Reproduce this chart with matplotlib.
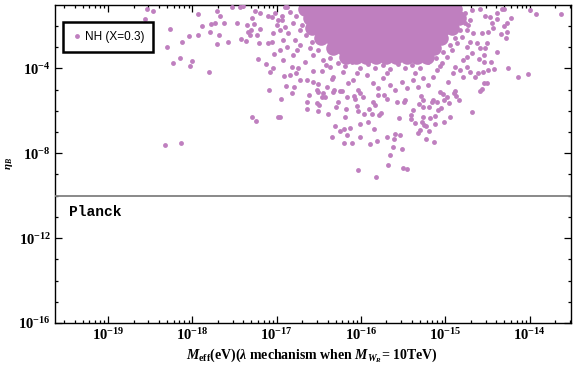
import matplotlib
matplotlib.use("Agg")
import matplotlib.pyplot as plt
import numpy as np
from matplotlib.ticker import NullFormatter, FixedLocator, LogFormatterSciNotation

plt.rcParams['font.family'] = 'Liberation Serif'
plt.rcParams['font.weight'] = 'bold'
plt.rcParams['mathtext.fontset'] = 'custom'
plt.rcParams['mathtext.rm'] = 'Liberation Serif:bold'
plt.rcParams['mathtext.bf'] = 'Liberation Serif:bold'
plt.rcParams['mathtext.it'] = 'Liberation Serif:italic:bold'

# log10 of scattered points (sparse part of the cloud)
sparse_logx = [
    -18.54, -18.47, -18.56, -18.27, -17.93, -17.89, -17.93, -18.04, -18.12, -18.30,
    -18.23, -18.15, -18.00, -18.03, -17.80, -17.79, -17.78, -17.73, -17.71, -17.67,
    -17.62, -17.68, -17.71, -17.58, -17.53, -17.47, -17.42, -17.36, -17.40, -17.35,
    -17.34, -17.30, -17.27, -17.29, -17.26, -17.20, -17.21, -17.23, -17.22, -17.13,
    -17.08, -17.04, -17.09, -16.91, -16.89, -16.95, -17.29, -17.25, -16.98, -18.32,
    -18.14, -17.44, -17.10, -17.03, -16.96, -17.20, -17.32, -17.06, -17.10, -17.06,
    -17.02, -16.98, -16.94, -16.88, -16.90, -16.96, -16.87, -17.00, -17.04, -16.93,
    -16.88, -16.82, -16.62, -16.64, -16.64, -16.51, -16.52, -16.50, -16.51, -16.46,
    -16.43, -16.39, -16.33, -16.25, -16.27, -16.30, -16.18, -16.19, -16.31, -16.25,
    -16.20, -16.13, -16.17, -16.34, -16.20, -16.11, -16.01, -16.01, -16.04, -16.05,
    -16.07, -16.08, -16.01, -15.96, -15.92, -15.91, -15.87, -15.85, -15.89, -15.81,
    -15.79, -15.76, -15.83, -15.86, -15.80, -15.73, -15.69, -15.69, -15.60, -15.54,
    -15.61, -15.55, -15.57, -15.49, -15.62, -15.51, -15.66, -15.68, -15.50, -15.45,
    -16.04, -15.82, -15.41, -15.41, -15.36, -15.32, -15.30, -15.38, -15.26, -15.28,
    -15.23, -15.23, -15.31, -15.26, -15.19, -16.96, -16.79, -16.82, -16.75, -16.77,
    -16.64, -16.45, -16.32, -16.23, -16.57, -16.57, -16.51, -16.46, -16.34, -15.48,
    -15.15, -15.02, -14.98, -14.68, -14.94, -15.02, -15.12, -15.12, -15.18, -15.19,
    -15.13, -15.25, -15.05, -15.09, -15.16, -15.10, -14.96, -14.84, -14.87, -14.89,
    -14.59, -14.56, -15.03, -15.26, -15.29, -14.00, -13.92, -13.63, -14.22, -14.33,
    -14.39, -14.47, -14.27, -14.31, -14.27, -14.34, -14.49, -14.51, -14.59, -14.39,
    -14.46, -14.54, -14.42, -14.26, -14.55, -14.61, -14.14, -14.02, -14.54, -14.74,
    -14.83, -14.79, -14.89, -14.90, -14.59, -14.53, -14.31, -14.39, -14.45, -14.43,
    -14.56, -14.28, -14.53, -14.54, -14.60, -14.49, -14.51, -14.74, -14.71, -14.65,
    -14.79, -14.68, -14.62, -14.67, -14.71, -14.74, -16.76, -16.66, -16.57, -16.45,
    -16.37, -16.33, -16.21, -16.15, -16.09, -16.04, -15.93, -15.86, -15.80, -15.74,
    -15.66, -15.60, -15.51, -15.45, -15.38, -15.32, -15.26, -15.21, -15.15, -15.10,
    -15.04, -14.98, -14.92, -14.86, -14.80, -14.74, -14.71, -14.77, -14.68, -14.73,
    -14.91, -14.97, -15.06, -15.98, -16.17, -16.40, -16.52, -16.72, -16.84, -16.93,
    -16.94, -16.90, -16.84, -16.81, -16.78, -16.72, -16.81, -16.60, -16.72,
]
sparse_logy = [
    -1.18, -1.32, -1.69, -2.16, -1.46, -2.02, -2.45, -2.49, -2.78, -3.01,
    -3.76, -3.53, -3.67, -3.91, -4.19, -2.31, -1.93, -1.84, -1.32, -1.55,
    -1.88, -2.45, -2.87, -2.78, -1.13, -1.88, -2.64, -2.73, -1.08, -1.98,
    -2.31, -2.21, -1.93, -1.65, -1.32, -1.41, -2.82, -2.45, -3.58, -3.81,
    -4.19, -4.00, -5.04, -4.38, -4.85, -5.46, -6.31, -6.49, -6.31, -7.62,
    -7.53, -1.13, -2.82, -3.34, -3.15, -2.16, -2.45, -2.78, -1.51, -1.60,
    -1.41, -1.74, -1.51, -1.13, -2.07, -2.21, -2.35, -1.98, -2.35, -2.68,
    -3.01, -5.18, -5.27, -5.93, -5.60, -5.13, -5.65, -5.74, -6.02, -5.36,
    -5.36, -6.16, -5.13, -5.08, -5.60, -5.84, -5.93, -6.31, -6.73, -6.96,
    -6.87, -6.82, -7.15, -7.25, -7.53, -7.53, -7.25, -6.64, -6.02, -5.79,
    -5.46, -5.32, -5.18, -6.16, -6.54, -5.93, -6.16, -6.87, -7.58, -7.44,
    -6.21, -6.12, -5.74, -5.60, -5.27, -5.27, -5.46, -7.25, -7.11, -7.15,
    -7.34, -6.35, -5.60, -5.60, -7.72, -7.81, -8.09, -8.56, -8.71, -8.75,
    -8.80, -9.13, -6.40, -6.21, -6.59, -7.06, -6.92, -5.98, -6.31, -6.54,
    -6.73, -7.34, -5.69, -5.84, -5.84, -6.31, -4.89, -3.95, -4.00, -4.24,
    -4.56, -5.18, -5.04, -5.08, -4.14, -4.66, -4.75, -4.14, -4.52, -5.51,
    -5.51, -5.51, -5.36, -6.07, -6.31, -6.54, -6.26, -6.64, -6.35, -6.96,
    -7.48, -6.68, -5.88, -5.98, -5.60, -5.60, -5.65, -5.51, -5.32, -5.08,
    -5.08, -4.99, -5.22, -5.51, -5.32, -1.27, -1.46, -1.46, -1.65, -1.22,
    -1.41, -1.60, -1.84, -2.02, -2.31, -2.40, -2.31, -2.82, -3.06, -3.25,
    -3.72, -3.72, -4.05, -4.00, -4.19, -4.24, -4.42, -4.28, -4.71, -3.48,
    -4.09, -4.42, -3.95, -5.18, -1.22, -1.51, -1.18, -1.69, -1.88, -2.12,
    -2.35, -2.59, -3.06, -3.39, -3.58, -4.09, -4.71, -3.95, -4.19, -4.42,
    -3.62, -3.29, -2.82, -2.35, -2.78, -3.01, -3.15, -3.72, -3.39, -3.62,
    -3.95, -4.42, -4.19, -4.71, -4.56, -5.04, -4.33, -4.71, -4.94, -4.47,
    -4.80, -5.04, -4.66, -4.94, -4.56, -4.89, -4.47, -4.80, -4.42, -4.09,
    -3.76, -3.48, -3.15, -2.82, -2.54, -2.21, -1.74, -1.41, -1.27, -1.98,
    -4.24, -4.66, -5.13, -5.36, -5.36, -4.89, -5.04, -4.56, -4.33, -3.62,
    -1.74, -1.13, -1.36, -1.84, -2.68, -2.92, -3.39, -3.06, -2.21,
]

# log10 of points hugging the edge of the dense core
edge_logx = [
    -16.37, -16.27, -16.19, -16.11, -16.01, -15.92, -15.83, -15.74, -15.66, -15.56,
    -15.48, -15.40, -15.30, -15.21, -15.11, -15.03, -14.94, -14.88, -14.83, -16.51,
    -16.58, -16.65, -16.70, -16.42, -16.05, -15.69, -15.36, -15.06, -16.77, -14.77,
]
edge_logy = [
    -3.53, -3.76, -3.91, -3.72, -4.00, -3.81, -4.00, -3.86, -4.05, -3.81,
    -4.00, -3.86, -4.00, -3.72, -3.53, -3.25, -2.92, -2.59, -2.21, -3.15,
    -2.78, -2.45, -1.98, -3.86, -4.24, -4.24, -4.24, -3.91, -1.51, -1.84,
]

# log10 of points in the saturated core of the cloud
core_logx = [
    -16.66, -16.55, -16.43, -16.31, -16.19, -16.07, -15.95, -15.83, -15.72, -15.60, -15.48, -15.36, -15.24, -15.12, -15.00, -14.88,
    -16.60, -16.49, -16.37, -16.25, -16.13, -16.01, -15.89, -15.77, -15.66, -15.54, -15.42, -15.30, -15.18, -15.06, -14.94, -14.84,
    -16.58, -16.46, -16.34, -16.22, -16.10, -15.98, -15.86, -15.74, -15.62, -15.50, -15.38, -15.26, -15.14, -15.02, -14.92,
    -16.47, -16.35, -16.23, -16.11, -15.99, -15.87, -15.75, -15.63, -15.51, -15.39, -15.27, -15.15, -15.05,
    -16.33, -16.21, -16.09, -15.97, -15.85, -15.73, -15.61, -15.49, -15.37, -15.25, -15.13,
    -16.18, -16.06, -15.94, -15.82, -15.70, -15.58, -15.46, -15.34, -15.22,
]
core_logy = (
    [-1.18] * 16 + [-1.62] * 16 + [-2.08] * 15 + [-2.55] * 13 + [-3.02] * 11 + [-3.48] * 9
)

planck = 1e-10
legend_label = 'NH (X=0.3)'
pt_color = '#bf7fbf'
x_major = [1e-19, 1e-18, 1e-17, 1e-16, 1e-15, 1e-14]
y_major = [1e-16, 1e-12, 1e-8, 1e-4]

fig = plt.figure(figsize=(5.76, 3.67), dpi=100)
ax = fig.add_axes([0.0955, 0.1199, 0.8958, 0.8673])

ax.plot(10.0 ** np.array(core_logx), 10.0 ** np.array(core_logy), 'o', color=pt_color,
        markersize=10.5, markeredgewidth=0, zorder=2)
ax.plot(10.0 ** np.array(sparse_logx + edge_logx), 10.0 ** np.array(sparse_logy + edge_logy),
        'o', color=pt_color, markersize=3.5, markeredgewidth=0, label=legend_label, zorder=3)
ax.axhline(planck, color='#808080', lw=1.3, zorder=4)
ax.text(0.027, 0.349, 'Planck', transform=ax.transAxes, family='Liberation Mono',
        weight='bold', fontsize=10.5, va='center', ha='left')

ax.set_xscale('log')
ax.set_yscale('log')
ax.set_xlim(10 ** -19.63, 10 ** -13.51)
ax.set_ylim(1e-16, 10 ** -1.0)

x_minor = [m * 10.0 ** k for k in range(-20, -13) for m in range(2, 10)]
x_minor = [v for v in x_minor if 10 ** -19.63 < v < 10 ** -13.51]
ax.xaxis.set_major_locator(FixedLocator(x_major))
ax.xaxis.set_minor_locator(FixedLocator(x_minor))
ax.xaxis.set_major_formatter(LogFormatterSciNotation())
ax.xaxis.set_minor_formatter(NullFormatter())
ax.yaxis.set_major_locator(FixedLocator(y_major))
ax.yaxis.set_minor_locator(FixedLocator([10.0 ** k for k in range(-15, -1)]))
ax.yaxis.set_major_formatter(LogFormatterSciNotation())
ax.yaxis.set_minor_formatter(NullFormatter())
ax.tick_params(which='both', direction='in', top=True, right=True, width=0.9,
               colors='black', labelsize=10.5)
ax.tick_params(which='major', length=5)
ax.tick_params(which='minor', length=2.5)
ax.tick_params(axis='x', pad=3)
ax.tick_params(axis='y', pad=3)
for s in ax.spines.values():
    s.set_linewidth(1.0)

ax.set_xlabel(r'$M_{\mathrm{eff}}$(eV)($\lambda$ mechanism when $M_{W_R}$= 10TeV)',
              fontsize=10, fontweight='bold')
ax.xaxis.set_label_coords(0.498, -0.075)
ax.set_ylabel(r'$\eta_B$', fontsize=8)
ax.yaxis.set_label_coords(-0.078, 0.5)

leg = ax.legend(loc='upper left', bbox_to_anchor=(0.0155, 0.946),
                prop={'family': 'Liberation Sans', 'size': 8.5, 'weight': 'normal'},
                frameon=True, fancybox=False, handletextpad=0.3, handlelength=0.8,
                borderpad=0.75, borderaxespad=0, markerscale=1.0, framealpha=1)
leg.get_frame().set_edgecolor('black')
leg.get_frame().set_linewidth(1.8)

plt.savefig('out.png', dpi=100)
